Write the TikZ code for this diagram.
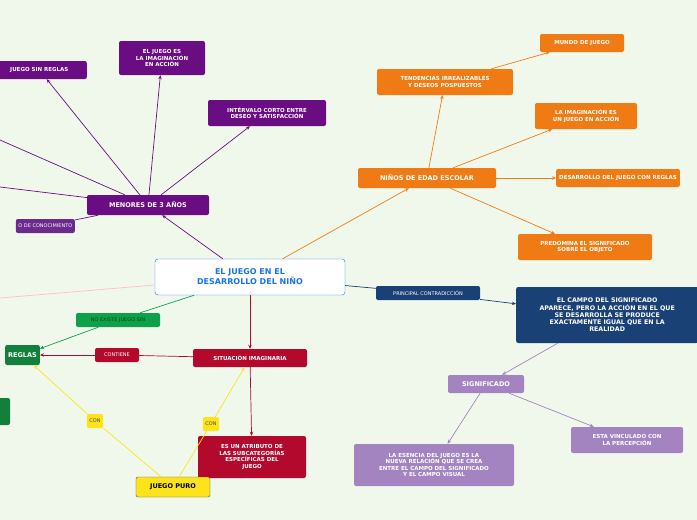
\documentclass[tikz,border=0pt]{standalone}
\usepackage{fontspec}
\setmainfont{DejaVu Sans}
\usetikzlibrary{arrows.meta}
\definecolor{bgcol}{HTML}{F0F8EC}
\definecolor{purp}{HTML}{6A0D83}
\definecolor{purpl}{HTML}{6B2A8C}
\definecolor{oran}{HTML}{F07B14}
\definecolor{navy}{HTML}{1A4176}
\definecolor{lila}{HTML}{A383C0}
\definecolor{crim}{HTML}{B3092D}
\definecolor{grn}{HTML}{12803A}
\definecolor{grnl}{HTML}{0EA04A}
\definecolor{yel}{HTML}{FDE31A}
\definecolor{mainblue}{HTML}{1A73E8}
\tikzset{
  box/.style={rounded corners=2pt, align=center, text=white, font=\bfseries\fontsize{5.5}{6.5}\selectfont, inner sep=3pt},
  lab/.style={rounded corners=2pt, align=center, font=\fontsize{5}{6}\selectfont, inner sep=2.5pt},
  link/.style={-{Stealth[length=4pt,width=3.5pt]}, line width=0.7pt}
}
\begin{document}
\begin{tikzpicture}[x=1pt,y=-1pt]
  \fill[bgcol] (0,0) rectangle (697,520);
  \useasboundingbox (0,0) rectangle (697,520);
  \clip (0,0) rectangle (697,520);

  % centre
  \node[draw=mainblue, fill=white, rounded corners=3pt, minimum width=190pt, minimum height=36pt, align=center, text=mainblue, font=\bfseries\fontsize{8}{9}\selectfont] (main) at (250,277) {EL JUEGO EN EL\\DESARROLLO DEL NIÑO};

  % menores de 3 anos
  \node[box, fill=purp, minimum width=122pt, minimum height=20pt, font=\bfseries\fontsize{6.5}{7.5}\selectfont] (menores) at (148,205) {MENORES DE 3 AÑOS};
  \node[box, fill=purp, minimum width=95pt, minimum height=18pt, anchor=east] (sinreglas) at (87,70) {JUEGO SIN REGLAS};
  \node[box, fill=purp, minimum width=86pt, minimum height=34pt] (imagin) at (162,58) {EL JUEGO ES\\LA IMAGINACIÓN\\EN ACCIÓN};
  \node[box, fill=purp, minimum width=118pt, minimum height=26pt] (intervalo) at (267,113) {INTÉRVALO CORTO ENTRE\\DESEO Y SATISFACCIÓN};
  \node[lab, fill=purpl, text=white, minimum height=14pt, anchor=east] (conoc) at (75,226) {O DE CONOCIMIENTO};
  \coordinate (offa) at (0,140);
  \coordinate (offb) at (0,187);

  % ninos de edad escolar
  \node[box, fill=oran, minimum width=138pt, minimum height=20pt, font=\bfseries\fontsize{6.5}{7.5}\selectfont] (ninos) at (427,178) {NIÑOS DE EDAD ESCOLAR};
  \node[box, fill=oran, minimum width=136pt, minimum height=26pt] (tendencias) at (445,82) {TENDENCIAS IRREALIZABLES\\Y DESEOS POSPUESTOS};
  \node[box, fill=oran, minimum width=84pt, minimum height=18pt] (mundo) at (582,43) {MUNDO DE JUEGO};
  \node[box, fill=oran, minimum width=102pt, minimum height=26pt] (imagjuego) at (586,116) {LA IMAGINACIÓN ES\\UN JUEGO EN ACCIÓN};
  \node[box, fill=oran, minimum height=18pt, anchor=west] (conreglas) at (556,178) {DESARROLLO DEL JUEGO CON REGLAS};
  \node[box, fill=oran, minimum width=134pt, minimum height=26pt] (predomina) at (585,247) {PREDOMINA EL SIGNIFICADO\\SOBRE EL OBJETO};

  % contradiccion
  \node[lab, fill=navy, text=white, minimum width=104pt, minimum height=14pt] (contra) at (428,293) {PRINCIPAL CONTRADICCIÓN};
  \node[box, fill=navy, minimum width=182pt, minimum height=56pt, anchor=west, font=\bfseries\fontsize{6.3}{7.3}\selectfont] (campo) at (516,315) {EL CAMPO DEL SIGNIFICADO\\APARECE, PERO LA ACCIÓN EN EL QUE\\SE DESARROLLA SE PRODUCE\\EXACTAMENTE IGUAL QUE EN LA\\REALIDAD};
  \node[box, fill=lila, minimum width=76pt, minimum height=18pt, font=\bfseries\fontsize{6.5}{7.5}\selectfont] (signif) at (486,384) {SIGNIFICADO};
  \node[box, fill=lila, minimum width=160pt, minimum height=42pt] (esencia) at (434,465) {LA ESENCIA DEL JUEGO ES LA\\NUEVA RELACIÓN QUE SE CREA\\ENTRE EL CAMPO DEL SIGNIFICADO\\Y EL CAMPO VISUAL};
  \node[box, fill=lila, minimum width=112pt, minimum height=26pt] (vinculo) at (627,440) {ESTA VINCULADO CON\\LA PERCEPCIÓN};

  % situacion imaginaria
  \node[box, fill=crim, minimum width=114pt, minimum height=18pt] (situacion) at (250,358) {SITUACIÓN IMAGINARIA};
  \node[box, fill=crim, minimum width=108pt, minimum height=42pt] (atributo) at (252,457) {ES UN ATRIBUTO DE\\LAS SUBCATEGORÍAS\\ESPECÍFICAS DEL\\JUEGO};
  \node[draw=black!70, fill=yel, rounded corners=2pt, minimum width=74pt, minimum height=20pt, font=\bfseries\fontsize{6.5}{7.5}\selectfont] (puro) at (173,487) {JUEGO PURO};
  \node[box, fill=grn, minimum height=20pt, anchor=east, font=\bfseries\fontsize{6.5}{7.5}\selectfont] (reglas) at (40,355) {REGLAS};
  \fill[grn, rounded corners=2pt] (-20,398) rectangle (10,425);
  \node[lab, fill=crim, text=white, minimum width=44pt, minimum height=14pt] (contiene) at (117,355) {CONTIENE};
  \node[lab, fill=grnl, text=green!30!black, minimum width=84pt, minimum height=14pt] (noexiste) at (118,320) {NO EXISTE JUEGO SIN};
  \node[lab, fill=yel, text=black!70, minimum height=14pt] (cona) at (95,421) {CON};
  \node[lab, fill=yel, text=black!70, minimum height=14pt] (conb) at (211,424) {CON};
  \coordinate (offc) at (0,298);

  % connectors
  \draw[purp, link] (main.north west) ++(68,0) -- (menores);
  \draw[purp, link] (menores) -- (sinreglas);
  \draw[purp, link] (menores) -- (imagin);
  \draw[purp, link] (menores) -- (intervalo);
  \draw[purp, line width=0.7pt] (menores) -- (offa);
  \draw[purp, line width=0.7pt] (menores) -- (offb);
  \draw[purp, line width=0.7pt] (menores) -- (conoc);
  \draw[oran, link] (main) -- (ninos);
  \draw[oran, link] (ninos) -- (tendencias);
  \draw[oran, link] (tendencias) -- (mundo);
  \draw[oran, link] (ninos) -- (imagjuego);
  \draw[oran, link] (ninos) -- (conreglas);
  \draw[oran, link] (ninos) -- (predomina);
  \draw[navy, line width=0.7pt] (main) -- (contra);
  \draw[navy, link] (contra) -- (campo);
  \draw[lila, link] (campo) -- (signif);
  \draw[lila, link] (signif) -- (esencia);
  \draw[lila, link] (signif) -- (vinculo);
  \draw[crim, link] (main) -- (situacion);
  \draw[crim, link] (situacion) -- (atributo);
  \draw[crim, line width=0.7pt] (situacion) -- (contiene);
  \draw[crim, link] (contiene) -- (reglas);
  \draw[grnl, line width=0.7pt] (main) -- (noexiste);
  \draw[grnl, link] (noexiste) -- (reglas);
  \draw[yel, line width=0.7pt] (puro) -- (cona);
  \draw[yel, link] (cona) -- (reglas);
  \draw[yel, line width=0.7pt] (puro) -- (conb);
  \draw[yel, link] (conb) -- (situacion);
  \draw[pink, line width=0.7pt] (main) -- (offc);
\end{tikzpicture}
\end{document}
